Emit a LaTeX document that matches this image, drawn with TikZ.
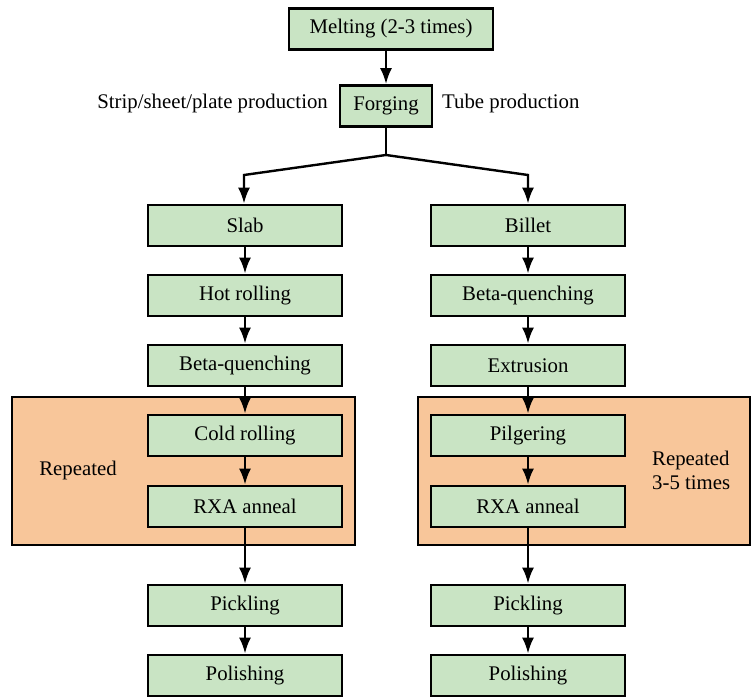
\documentclass[tikz,border=0pt]{standalone}
\usepackage{fontspec}
\setmainfont{Liberation Serif}
\usetikzlibrary{arrows.meta}
\definecolor{boxgreen}{RGB}{201,228,196}
\definecolor{reporange}{RGB}{248,198,154}
\begin{document}
\begin{tikzpicture}[x=1pt,y=-1pt,
  stepbox/.style={draw=black,line width=2.8pt,fill=boxgreen,minimum height=41pt,inner sep=0pt,font=\fontsize{20.8}{24}\selectfont},
  wide/.style={minimum width=194pt},
  conn/.style={line width=2.4pt,-{Latex[length=16pt,width=12pt]}},
  plain/.style={line width=2.4pt},
  lbl/.style={font=\fontsize{20.8}{24}\selectfont,inner sep=0pt},
  rep/.style={draw=black,line width=2.8pt,fill=reporange}]
\useasboundingbox (0,0) rectangle (752,700);
% repeated regions
\draw[rep] (12,397) rectangle (355,545);
\draw[rep] (418,397) rectangle (750,545);
% nodes
\node[stepbox,minimum width=204pt] (melt) at (391,29) {Melting (2-3 times)};
\node[stepbox,minimum width=92pt] (forge) at (386,106) {Forging};
\node[lbl,anchor=east] (strip) at (328,104) {Strip/sheet/plate production};
\node[lbl,anchor=west] (tube) at (442,104) {Tube production};
\coordinate (junc) at (386,155);
\coordinate (lbend) at (244,175);
\coordinate (rbend) at (528,175);
\node[stepbox,wide] (slab) at (245,225.5) {Slab};
\node[stepbox,wide] (hot) at (245,295.5) {Hot rolling};
\node[stepbox,wide] (bq1) at (245,365.5) {Beta-quenching};
\node[stepbox,wide] (cold) at (245,435.5) {Cold rolling};
\node[stepbox,wide] (rxa1) at (245,506.5) {RXA anneal};
\node[stepbox,wide] (pick1) at (245,605.5) {Pickling};
\node[stepbox,wide] (pol1) at (245,675.5) {Polishing};
\node[stepbox,wide] (bil) at (528,225.5) {Billet};
\node[stepbox,wide] (bq2) at (528,295.5) {Beta-quenching};
\node[stepbox,wide] (ext) at (528,365.5) {Extrusion};
\node[stepbox,wide] (pil) at (528,435.5) {Pilgering};
\node[stepbox,wide] (rxa2) at (528,506.5) {RXA anneal};
\node[stepbox,wide] (pick2) at (528,605.5) {Pickling};
\node[stepbox,wide] (pol2) at (528,675.5) {Polishing};
\node[lbl] (rep1) at (78,470) {Repeated};
\node[lbl,align=left,anchor=west] (rep2) at (652,470) {Repeated\\3-5 times};
% connectors
\draw[conn] (forge.north |- melt.south) -- (forge.north);
\draw[plain] (forge) -- (junc);
\draw[conn] (junc) -- (lbend) -- (lbend |- slab.north);
\draw[conn] (junc) -- (rbend) -- (bil);
\draw[conn] (slab) -- (hot);
\draw[conn] (hot) -- (bq1);
\draw[conn] (bq1) -- (cold);
\draw[conn] (cold) -- (rxa1);
\draw[conn] (rxa1) -- (pick1);
\draw[conn] (pick1) -- (pol1);
\draw[conn] (bil) -- (bq2);
\draw[conn] (bq2) -- (ext);
\draw[conn] (ext) -- (pil);
\draw[conn] (pil) -- (rxa2);
\draw[conn] (rxa2) -- (pick2);
\draw[conn] (pick2) -- (pol2);
\end{tikzpicture}
\end{document}
